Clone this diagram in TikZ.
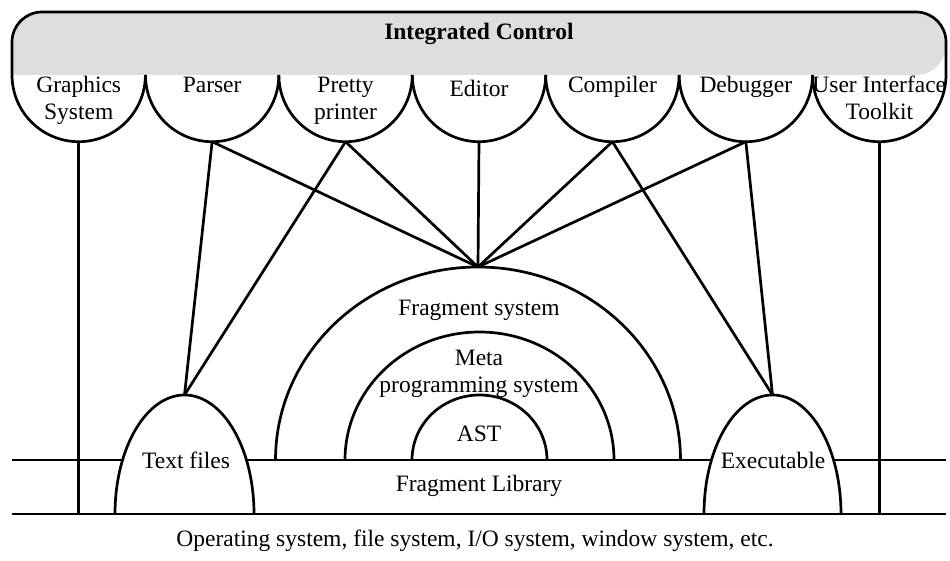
\documentclass[tikz,border=0pt]{standalone}
\usepackage{fontspec}
\setmainfont{Liberation Serif}
\usepackage{tikz}

\begin{document}
\begin{tikzpicture}[x=1pt, y=1pt, line width=2.7pt,
  lbl/.style={font=\fontsize{23.5}{27}\selectfont, align=center, inner sep=0pt, anchor=base},
  bar/.style={fill=black!13}]
  \useasboundingbox (0,0) rectangle (950,-561);
  \fill[bar] (12,-75) [rounded corners=30] |- (479,-12) -| (946,-75) [sharp corners] -- cycle;
  \draw (12,-75) [rounded corners=30] |- (479,-12) -| (946,-75);
  \node[lbl, font=\fontsize{23.5}{27}\selectfont\bfseries] (ctl) at (479,-40) {Integrated Control};

  \foreach \i/\name/\ty/\txt in {0/gfx/120/{Graphics\\System}, 1/parser/93/Parser, 2/pretty/120/{Pretty\\printer},
      3/editor/97/Editor, 4/compiler/93/Compiler, 5/debugger/93/Debugger, 6/uit/120/{User Interface\\Toolkit}} {
    \draw ({12+133.43*\i},-75) arc[start angle=180, end angle=360, radius=66.7];
    \coordinate (\name) at ({78.7+133.43*\i},-141.7);
    \node[lbl] (\name-l) at ({78.7+133.43*\i},-\ty) {\txt};
  }

  \coordinate (frag) at (478,-267);
  \coordinate (txt) at (184.5,-395);
  \coordinate (exe) at (772.5,-395);
  \coordinate (lib-l) at (12,-460);
  \coordinate (lib-r) at (946,-460);
  \coordinate (os-l) at (12,-514);
  \coordinate (os-r) at (946,-514);

  \draw (parser) -- (txt);
  \draw (parser) -- (frag);
  \draw (pretty) -- (txt);
  \draw (pretty) -- (frag);
  \draw (editor) -- (frag);
  \draw (compiler) -- (frag);
  \draw (compiler) -- (exe);
  \draw (debugger) -- (frag);
  \draw (debugger) -- (exe);

  \draw (lib-l) -- (lib-r);
  \draw (275.5,-460) arc[start angle=180, end angle=0, x radius=202.5, y radius=193];
  \draw (345,-460) arc[start angle=180, end angle=0, x radius=134.5, y radius=128];
  \draw (412,-460) arc[start angle=180, end angle=0, x radius=67.5, y radius=65];
  \draw[fill=white] (115,-514) arc[start angle=180, end angle=0, x radius=69.5, y radius=119];
  \draw[fill=white] (704,-514) arc[start angle=180, end angle=0, x radius=68.5, y radius=119];
  \draw (os-l) -- (os-r);
  \draw (gfx) -- (gfx |- os-l);
  \draw (uit) -- (uit |- os-l);

  \node[lbl] (fs) at (479,-316) {Fragment system};
  \node[lbl] (mps) at (479,-392) {Meta\\programming system};
  \node[lbl] (ast) at (479,-441) {AST};
  \node[lbl] (tf) at (186,-468) {Text files};
  \node[lbl] (ex) at (773,-468) {Executable};
  \node[lbl] (fl) at (479,-491) {Fragment Library};
  \node[lbl] (os) at (475,-546) {Operating system, file system, I/O system, window system, etc.};
\end{tikzpicture}
\end{document}
